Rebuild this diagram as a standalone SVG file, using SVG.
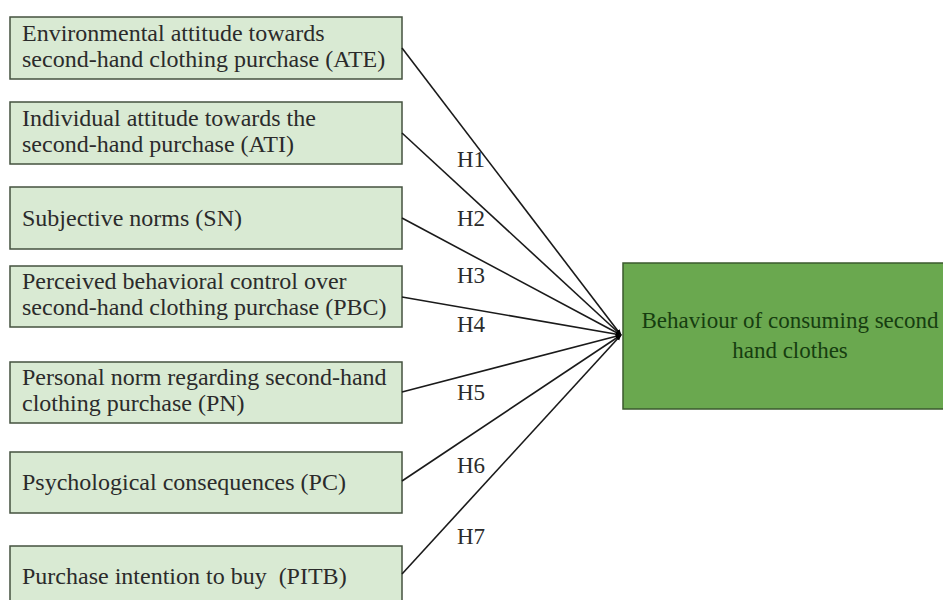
<svg xmlns="http://www.w3.org/2000/svg" width="943" height="600" viewBox="0 0 943 600">
<style>
.box rect{fill:#d9ead3;stroke:#44523f;stroke-width:1.5}
.box text{font-family:"Liberation Serif","Times New Roman",serif;font-size:24px;fill:#2b2b2b;white-space:pre}
.out rect{fill:#6aa84f;stroke:#3b5a2e;stroke-width:1.5}
.out text{font-family:"Liberation Serif","Times New Roman",serif;font-size:23px;fill:#163d10;text-anchor:middle}
.conn line{stroke:#1a1a1a;stroke-width:1.6;marker-end:url(#arr)}
.lbl{font-family:"Liberation Serif","Times New Roman",serif;font-size:23px;fill:#2b2b2b}
</style>
<defs>
<marker id="arr" viewBox="0 0 10 10" refX="9" refY="5" markerWidth="6" markerHeight="6" orient="auto" markerUnits="userSpaceOnUse">
<path d="M0,1 L10,5 L0,9 z" fill="#000"/>
</marker>
</defs>
<rect width="943" height="600" fill="#fff"/>
<g id="ATE" class="box"><rect x="10" y="17" width="392" height="62"/><text x="22" y="41">Environmental attitude towards</text><text x="22" y="67">second-hand clothing purchase (ATE)</text></g>
<g id="ATI" class="box"><rect x="10" y="102" width="392" height="62"/><text x="22" y="126">Individual attitude towards the</text><text x="22" y="152">second-hand purchase (ATI)</text></g>
<g id="SN" class="box"><rect x="10" y="187" width="392" height="62"/><text x="22" y="226">Subjective norms (SN)</text></g>
<g id="PBC" class="box"><rect x="10" y="266" width="392" height="61"/><text x="22" y="289">Perceived behavioral control over</text><text x="22" y="315">second-hand clothing purchase (PBC)</text></g>
<g id="PN" class="box"><rect x="10" y="362" width="392" height="61"/><text x="22" y="385">Personal norm regarding second-hand</text><text x="22" y="411">clothing purchase (PN)</text></g>
<g id="PC" class="box"><rect x="10" y="452" width="392" height="61"/><text x="22" y="490">Psychological consequences (PC)</text></g>
<g id="PITB" class="box"><rect x="10" y="546" width="392" height="58"/><text x="22" y="584">Purchase intention to buy  (PITB)</text></g>
<g id="BEH" class="out"><rect x="623" y="263" width="335" height="146"/><text x="790" y="328">Behaviour of consuming second</text><text x="790" y="358">hand clothes</text></g>
<g id="connectors" class="conn">
<line x1="402" y1="48" x2="621" y2="335"/>
<line x1="402" y1="133" x2="621" y2="335"/>
<line x1="402" y1="218" x2="621" y2="335"/>
<line x1="402" y1="297" x2="621" y2="335"/>
<line x1="402" y1="392" x2="621" y2="335"/>
<line x1="402" y1="481" x2="621" y2="335"/>
<line x1="402" y1="574" x2="621" y2="335"/>
</g>
<g id="labels">
<text class="lbl" x="457" y="167">H1</text>
<text class="lbl" x="457" y="226">H2</text>
<text class="lbl" x="457" y="283">H3</text>
<text class="lbl" x="457" y="332">H4</text>
<text class="lbl" x="457" y="400">H5</text>
<text class="lbl" x="457" y="473">H6</text>
<text class="lbl" x="457" y="544">H7</text>
</g>
</svg>
